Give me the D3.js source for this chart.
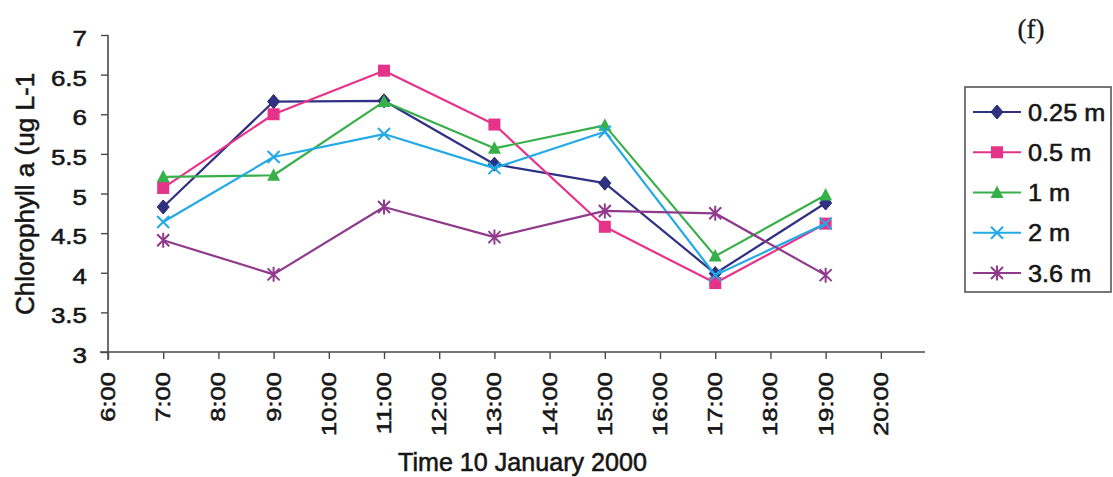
<!DOCTYPE html>
<html>
<head>
<meta charset="utf-8">
<script src="https://cdn.jsdelivr.net/npm/d3@7"></script>
<style>
  html, body { margin: 0; padding: 0; background: #fff; }
  svg { display: block; }
  text { font-family: "Liberation Sans", Arial, sans-serif; fill: #161616; stroke: #161616; stroke-width: 0.55px; }
  text.serif { font-family: "Liberation Serif", "Times New Roman", serif; stroke-width: 0.3px; }
</style>
</head>
<body>
<svg id="chart" width="1113" height="477"></svg>
<script>
// Sampling hours (10 January 2000)
const hours = [7, 9, 11, 13, 15, 17, 19];

// Chlorophyll a (ug L-1) at each depth
const depth025 = [4.83, 6.16, 6.17, 5.37, 5.13, 3.99, 4.88];
const depth05  = [5.07, 6.00, 6.55, 5.87, 4.58, 3.87, 4.62];
const depth1   = [5.21, 5.23, 6.16, 5.57, 5.86, 4.21, 4.98];
const depth2   = [4.64, 5.46, 5.75, 5.32, 5.78, 3.97, 4.62];
const depth36  = [4.41, 3.98, 4.83, 4.45, 4.78, 4.75, 3.97];

const seriesNames = ["0.25 m", "0.5 m", "1 m", "2 m", "3.6 m"];

// Axis ticks
const xTickHours = [6, 7, 8, 9, 10, 11, 12, 13, 14, 15, 16, 17, 18, 19, 20];
const xTickLabels = ["6:00", "7:00", "8:00", "9:00", "10:00", "11:00", "12:00", "13:00",
                     "14:00", "15:00", "16:00", "17:00", "18:00", "19:00", "20:00"];
const yTicks = [3, 3.5, 4, 4.5, 5, 5.5, 6, 6.5, 7];
const yTickLabels = ["3", "3.5", "4", "4.5", "5", "5.5", "6", "6.5", "7"];

const series = [
  { name: seriesNames[0], values: depth025, color: "#2f3185", marker: "diamond" },
  { name: seriesNames[1], values: depth05,  color: "#e6338a", marker: "square" },
  { name: seriesNames[2], values: depth1,   color: "#38b04a", marker: "triangle" },
  { name: seriesNames[3], values: depth2,   color: "#22a9e6", marker: "x" },
  { name: seriesNames[4], values: depth36,  color: "#903a8c", marker: "star" }
];

const svg = d3.select("#chart");

const x = d3.scaleLinear().domain([6, 20.8]).range([108, 925]);
const y = d3.scaleLinear().domain([3, 7]).range([352, 35]);

const axisColor = "#4a4a4a";

// Y axis
const yAxis = svg.append("g").attr("transform", `translate(${x(6)},0)`)
  .call(d3.axisLeft(y).tickValues(yTicks).tickSize(7).tickFormat(""));
yAxis.select(".domain").attr("stroke", axisColor).attr("stroke-width", 1.6)
  .attr("d", `M0,${y(7)}V${y(3) + 8}`);
yAxis.selectAll(".tick line").attr("stroke", axisColor).attr("stroke-width", 1.4);

svg.append("g").selectAll("text").data(yTicks).join("text")
  .attr("transform", d => `translate(87,${y(d) + 11}) scale(1.18,1)`)
  .attr("text-anchor", "end")
  .attr("font-size", 22)
  .text((d, i) => yTickLabels[i]);

// X axis
const xAxis = svg.append("g").attr("transform", `translate(0,${y(3)})`)
  .call(d3.axisBottom(x).tickValues(xTickHours).tickSize(7).tickFormat(""));
xAxis.select(".domain").attr("stroke", axisColor).attr("stroke-width", 1.6)
  .attr("d", `M${x(6) - 8},0H${x(20.8)}`);
xAxis.selectAll(".tick line").attr("stroke", axisColor).attr("stroke-width", 1.4);

svg.append("g").selectAll("text").data(xTickHours).join("text")
  .attr("transform", d => `translate(${x(d) + 7},372) rotate(-90) scale(1.22,1)`)
  .attr("text-anchor", "end")
  .attr("font-size", 21)
  .text((d, i) => xTickLabels[i]);

// Axis titles
svg.append("text")
  .attr("x", 398).attr("y", 471)
  .attr("font-size", 25)
  .attr("textLength", 249).attr("lengthAdjust", "spacingAndGlyphs")
  .text("Time 10 January 2000");

svg.append("clipPath").attr("id", "ytitle-clip")
  .append("rect").attr("x", 0).attr("y", 73).attr("width", 60).attr("height", 300);
svg.append("g")
  .attr("clip-path", "url(#ytitle-clip)")
  .append("text")
  .attr("transform", "translate(34,315) rotate(-90)")
  .attr("font-size", 26)
  .attr("textLength", 251).attr("lengthAdjust", "spacingAndGlyphs")
  .text("Chlorophyll a (ug L-1)");

// Panel letter
svg.append("text")
  .attr("class", "serif")
  .attr("x", 1031).attr("y", 38)
  .attr("text-anchor", "middle")
  .attr("font-size", 27)
  .text("(f)");

// Marker shapes
function drawMarker(g, type, color) {
  if (type === "diamond") {
    g.append("path").attr("d", "M0,-7L6,0L0,7L-6,0Z")
      .attr("fill", color).attr("stroke", "#23245f").attr("stroke-width", 1);
  } else if (type === "square") {
    g.append("path").attr("d", "M-6,-6H6V6H-6Z").attr("fill", color);
  } else if (type === "triangle") {
    g.append("path").attr("d", "M0,-7L6.5,5.5H-6.5Z").attr("fill", color);
  } else if (type === "x") {
    g.append("path").attr("d", "M-6,-6L6,6M-6,6L6,-6")
      .attr("stroke", color).attr("stroke-width", 2).attr("fill", "none");
  } else if (type === "star") {
    g.append("path").attr("d", "M-6,-6L6,6M-6,6L6,-6M0,-7.5V7.5")
      .attr("stroke", color).attr("stroke-width", 2).attr("fill", "none");
  }
}

// Series lines and markers
const line = d3.line().x(d => x(d.h)).y(d => y(d.v));
const plot = svg.append("g");
series.forEach(s => {
  const pts = hours.map((h, i) => ({ h, v: s.values[i] }));
  const g = plot.append("g");
  g.append("path").datum(pts)
    .attr("d", line)
    .attr("fill", "none")
    .attr("stroke", s.color)
    .attr("stroke-width", 2.2)
    .attr("stroke-linejoin", "round");
  g.selectAll("g.pt").data(pts).join("g")
    .attr("class", "pt")
    .attr("transform", d => `translate(${x(d.h)},${y(d.v)})`)
    .each(function () { drawMarker(d3.select(this), s.marker, s.color); });
});

// Legend
const legend = svg.append("g");
legend.append("rect")
  .attr("x", 965).attr("y", 87).attr("width", 146).attr("height", 205)
  .attr("fill", "#fff").attr("stroke", "#555").attr("stroke-width", 1.6);
const rowY = d3.scalePoint().domain(seriesNames).range([112, 273]);
series.forEach(s => {
  const r = legend.append("g").attr("transform", `translate(0,${rowY(s.name)})`);
  r.append("line").attr("x1", 973).attr("x2", 1021).attr("y1", 0).attr("y2", 0)
    .attr("stroke", s.color).attr("stroke-width", 2.2);
  drawMarker(r.append("g").attr("transform", "translate(997,0)"), s.marker, s.color);
  r.append("text")
    .attr("transform", "translate(1028,8.5) scale(1.1,1)")
    .attr("font-size", 23)
    .text(s.name);
});
</script>
</body>
</html>
